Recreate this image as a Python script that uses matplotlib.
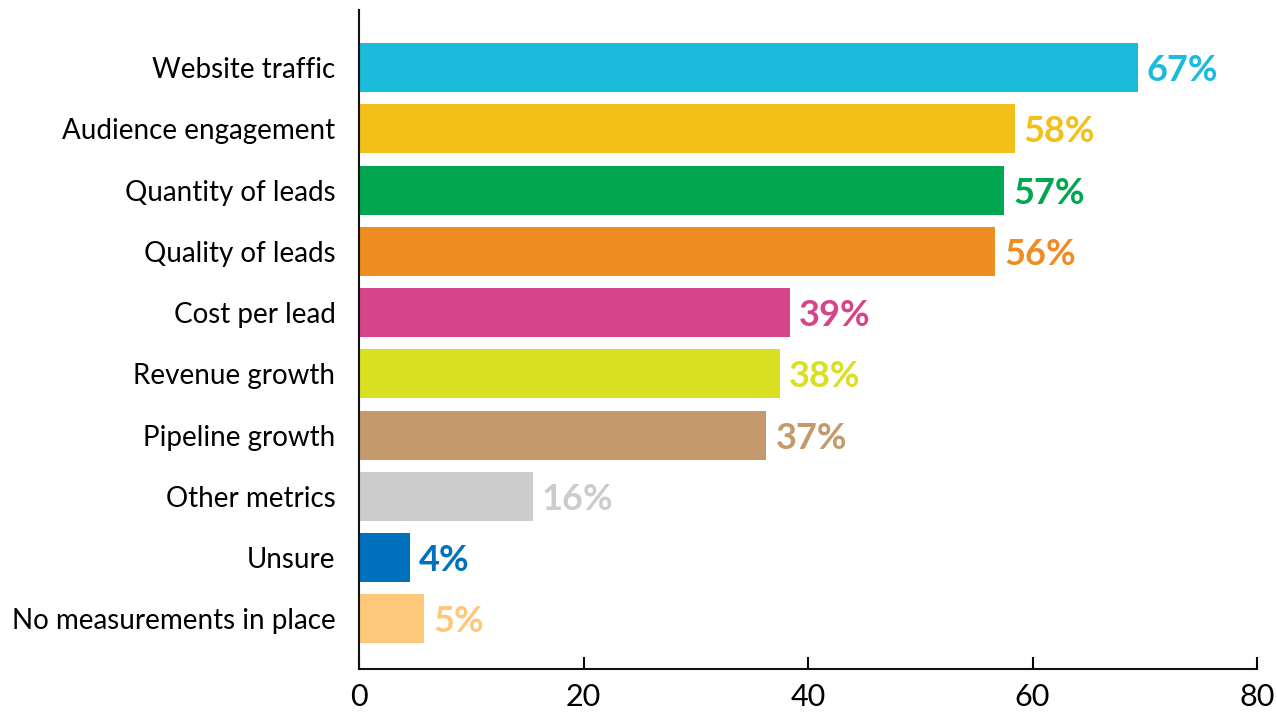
import matplotlib
matplotlib.use("Agg")
import matplotlib.pyplot as plt

# ---------------------------------------------------------------------------
# Data
# ---------------------------------------------------------------------------
categories = [
    "Website traffic",
    "Audience engagement",
    "Quantity of leads",
    "Quality of leads",
    "Cost per lead",
    "Revenue growth",
    "Pipeline growth",
    "Other metrics",
    "Unsure",
    "No measurements in place",
]
bar_values = [69.4, 58.4, 57.5, 56.7, 38.4, 37.5, 36.3, 15.5, 4.5, 5.8]
value_labels = ["67%", "58%", "57%", "56%", "39%", "38%", "37%", "16%", "4%", "5%"]
colors = [
    "#1BBCDB", "#F2C019", "#00A650", "#EF8C22", "#D6458A",
    "#D9E021", "#C49A6C", "#CCCCCC", "#0071BC", "#FEC87A",
]
x_ticks = [0, 20, 40, 60, 80]

plt.rcParams["font.family"] = ["Lato", "DejaVu Sans"]

fig = plt.figure(figsize=(12.77, 7.15), dpi=100)
ax = fig.add_axes([359 / 1277, 1 - 669 / 715, 898 / 1277, 659 / 715])

ys = list(range(len(categories)))
ax.barh(ys, bar_values, height=0.8, color=colors)

for y, v, lab, c in zip(ys, bar_values, value_labels, colors):
    ax.text(v + 0.8, y, lab, va="center_baseline", ha="left", color=c,
            fontsize=26, fontweight="bold")

ax.set_xlim(0, 80)
ax.set_ylim(9.82, -0.94)
ax.set_yticks(ys)
ax.set_yticklabels(categories, fontsize=20)
for t in ax.get_yticklabels():
    t.set_va("center_baseline")
ax.set_xticks(x_ticks)
ax.set_xticklabels([str(t) for t in x_ticks], fontsize=22)

ax.spines["top"].set_visible(False)
ax.spines["right"].set_visible(False)
for s in ("left", "bottom"):
    ax.spines[s].set_linewidth(1.5)
    ax.spines[s].set_color("#111111")
ax.tick_params(axis="y", length=0, pad=17)
ax.tick_params(axis="x", direction="in", length=9, width=1.5, pad=10)

fig.savefig("out.png", dpi=100)
